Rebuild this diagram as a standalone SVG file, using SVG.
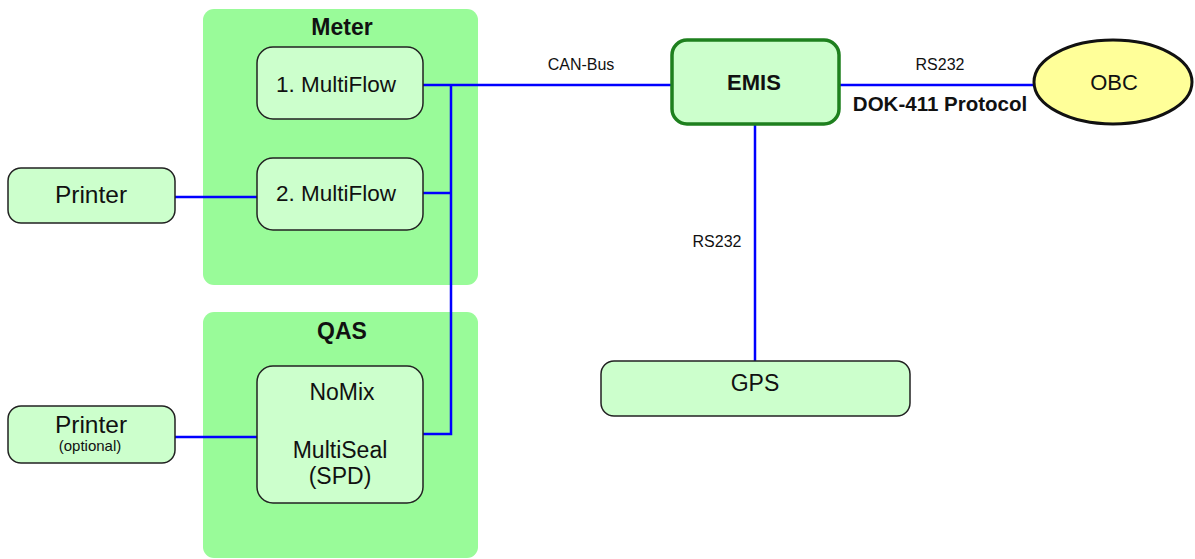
<svg xmlns="http://www.w3.org/2000/svg" width="1195" height="559" viewBox="0 0 1195 559">
<style>
.grp{fill:#99fb99;stroke:none}
.node{fill:#ccffcc;stroke:#222;stroke-width:1.5}
.t{font-family:"Liberation Sans",Arial,sans-serif;fill:#111;text-anchor:middle}
.b{font-weight:bold}
.wire{stroke:#0000ff;stroke-width:2.5;fill:none}
</style>
<rect width="1195" height="559" fill="#fff"/>
<g id="meter">
<rect class="grp" x="203" y="9" width="275" height="276" rx="11"/>
<text class="t b" x="342" y="35" font-size="23">Meter</text>
</g>
<g id="qas">
<rect class="grp" x="203" y="312" width="275" height="246" rx="11"/>
<text class="t b" x="342" y="339" font-size="23">QAS</text>
</g>
<g id="connectors">
<polyline class="wire" points="423,85 672,85"/>
<polyline class="wire" points="423,193 451,193"/>
<polyline class="wire" points="451,85 451,434 423,434"/>
<polyline class="wire" points="175,197 257,197"/>
<polyline class="wire" points="175,437 257,437"/>
<polyline class="wire" points="755,124 755,361"/>
<polyline class="wire" stroke-width="3.5" points="840,85 1035,85"/>
</g>
<g id="multiflow1">
<rect class="node" x="257" y="47" width="166" height="72" rx="16"/>
<text class="t" x="336" y="92" font-size="22.5">1. MultiFlow</text>
</g>
<g id="multiflow2">
<rect class="node" x="257" y="158" width="166" height="72" rx="16"/>
<text class="t" x="336" y="201" font-size="22.5">2. MultiFlow</text>
</g>
<g id="nomix">
<rect class="node" x="257" y="366" width="166" height="137" rx="16"/>
<text class="t" x="342" y="400" font-size="23">NoMix</text>
<text class="t" x="340" y="458" font-size="23">MultiSeal</text>
<text class="t" x="340" y="484" font-size="23">(SPD)</text>
</g>
<g id="printer1">
<rect class="node" x="8" y="168" width="167" height="55" rx="13"/>
<text class="t" x="91" y="203" font-size="24.5">Printer</text>
</g>
<g id="printer2">
<rect class="node" x="8" y="406" width="167" height="57" rx="13"/>
<text class="t" x="91" y="433" font-size="24.5">Printer</text>
<text class="t" x="90" y="451" font-size="15">(optional)</text>
</g>
<g id="emis">
<rect x="672" y="40" width="167" height="84" rx="15" fill="#ccffcc" stroke="#1e801e" stroke-width="3.5"/>
<text class="t b" x="754" y="90" font-size="22">EMIS</text>
</g>
<g id="obc">
<ellipse cx="1113" cy="82" rx="79" ry="42" fill="#ffff99" stroke="#111" stroke-width="3"/>
<text class="t" x="1114" y="90" font-size="22">OBC</text>
</g>
<g id="gps">
<rect class="node" x="601" y="361" width="309" height="55" rx="13"/>
<text class="t" x="755" y="391" font-size="23">GPS</text>
</g>
<g id="labels">
<text class="t" x="581" y="70" font-size="16">CAN-Bus</text>
<text class="t" x="940" y="70" font-size="16">RS232</text>
<text class="t b" x="940" y="111" font-size="20.5">DOK-411 Protocol</text>
<text class="t" x="717" y="247" font-size="16">RS232</text>
</g>
</svg>
